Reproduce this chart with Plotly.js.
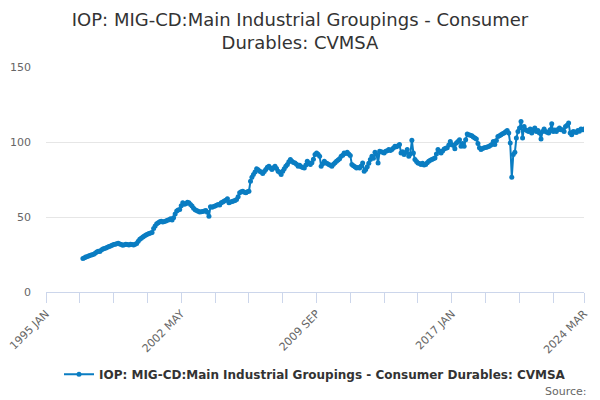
<!DOCTYPE html>
<html>
<head>
<meta charset="utf-8">
<script src="https://cdn.plot.ly/plotly-3.0.1.min.js"></script>
<style>html,body{margin:0;padding:0;background:#fff;}#chart{width:600px;height:400px;}</style>
</head>
<body>
<div id="chart"></div>
<script>
var seriesName = "IOP: MIG-CD:Main Industrial Groupings - Consumer Durables: CVMSA";
var startYear = 1997, startMonth = 1;
var values = [
// 1997
22.4, 22.8, 23.3, 23.6, 24.1, 24.5, 24.9, 25.2, 25.8, 26.6, 27.2, 27.0,
// 1998
28.0, 28.6, 29.0, 29.3, 29.9, 30.3, 30.7, 31.2, 31.6, 31.9, 32.2, 32.5,
// 1999
32.0, 31.6, 31.2, 31.5, 31.9, 31.7, 31.4, 31.8, 31.6, 31.3, 31.9, 32.3,
// 2000
33.8, 35.2, 35.9, 36.7, 37.4, 38.0, 38.5, 39.0, 39.3, 39.6, 42.3, 44.0,
// 2001
45.5, 46.2, 46.8, 47.1, 46.6, 47.0, 47.3, 47.8, 48.2, 48.9, 48.0, 49.5,
// 2002
52.0, 54.0, 54.6, 55.0, 57.5, 59.5, 58.5, 58.9, 59.8, 59.5, 58.4, 57.3,
// 2003
55.8, 54.9, 54.4, 53.8, 53.3, 53.5, 53.7, 54.0, 54.4, 53.2, 50.5, 56.9,
// 2004
56.5, 57.0, 57.3, 57.8, 58.4, 58.0, 59.5, 60.0, 60.6, 61.2, 62.2, 59.5,
// 2005
60.0, 60.4, 60.6, 61.0, 61.7, 63.5, 66.2, 66.8, 67.2, 66.5, 66.2, 66.8,
// 2006
67.2, 73.9, 76.5, 78.3, 80.0, 82.1, 81.5, 80.5, 80.0, 79.0, 80.3, 81.6,
// 2007
83.2, 83.8, 82.6, 81.6, 82.9, 83.8, 82.3, 80.5, 79.8, 78.3, 80.5, 82.1,
// 2008
83.8, 85.0, 86.8, 88.3, 87.2, 86.4, 86.0, 85.1, 83.8, 84.5, 83.5, 83.0,
// 2009
82.7, 84.6, 87.1, 86.0, 85.0, 86.2, 88.5, 91.6, 92.7, 91.8, 90.5, 83.8,
// 2010
85.5, 87.1, 86.2, 85.6, 85.0, 84.5, 83.8, 85.2, 86.1, 87.1, 88.0, 88.9,
// 2011
90.5, 91.2, 92.7, 92.4, 93.1, 92.0, 91.0, 85.0, 84.1, 83.5, 82.7, 83.0,
// 2012
82.7, 84.0, 86.0, 80.5, 81.6, 83.5, 85.8, 88.3, 90.5, 89.2, 93.1, 91.6,
// 2013
86.0, 93.9, 93.5, 93.1, 92.6, 93.9, 94.2, 95.0, 94.4, 95.0, 96.0, 97.1,
// 2014
96.8, 97.5, 98.3, 92.7, 93.5, 91.6, 93.0, 95.0, 90.5, 92.0, 101.1, 92.7,
// 2015
88.3, 87.0, 86.0, 85.6, 85.0, 85.8, 84.6, 85.0, 86.2, 87.1, 87.8, 88.3,
// 2016
88.8, 89.4, 92.0, 95.0, 93.8, 92.7, 94.0, 95.4, 95.8, 96.1, 98.0, 100.4,
// 2017
98.3, 97.6, 95.5, 99.3, 100.4, 101.5, 97.1, 99.0, 97.1, 101.5, 105.3, 104.8,
// 2018
104.5, 104.2, 103.4, 102.6, 102.0, 99.0, 96.1, 95.0, 95.6, 96.1, 96.4, 96.7,
// 2019
97.0, 97.6, 98.3, 100.4, 98.3, 101.0, 103.7, 104.2, 104.8, 105.5, 106.0, 106.8,
// 2020
107.7, 106.0, 99.3, 76.5, 91.6, 93.1, 102.6, 107.0, 109.3, 113.7, 102.6, 110.4,
// 2021
108.2, 107.5, 107.0, 108.6, 106.0, 108.2, 109.3, 107.0, 107.6, 106.0, 102.0, 107.0,
// 2022
108.6, 107.0, 106.5, 106.0, 108.2, 112.1, 107.0, 108.0, 107.0, 108.4, 109.3, 108.2,
// 2023
108.2, 107.0, 110.4, 111.2, 112.6, 106.0, 104.8, 107.0, 106.7, 106.4, 107.7, 107.2,
// 2024
108.6, 108.2, 108.6
];
var tickDates = ["1995-01-01", "2002-05-01", "2009-09-01", "2017-01-01", "2024-03-01"];
var tickLabels = ["1995 JAN", "2002 MAY", "2009 SEP", "2017 JAN", "2024 MAR"];
var yTicks = [0, 50, 100, 150];

var dates = [];
for (var i = 0; i < values.length; i++) {
  var mi = (startMonth - 1) + i;
  var yy = startYear + Math.floor(mi / 12);
  var mm = (mi % 12) + 1;
  dates.push(yy + "-" + (mm < 10 ? "0" : "") + mm + "-01");
}

var trace = {
  x: dates, y: values, type: "scatter", mode: "lines+markers", name: seriesName,
  line: {color: "#0a7dc2", width: 2},
  marker: {color: "#0a7dc2", size: 5}
};

var layout = {
  width: 600, height: 400,
  margin: {l: 46, r: 16, t: 67, b: 107},
  paper_bgcolor: "#ffffff", plot_bgcolor: "#ffffff",
  font: {family: "DejaVu Sans, sans-serif", color: "#666666", size: 11},
  title: {text: "IOP: MIG-CD:Main Industrial Groupings - Consumer<br>Durables: CVMSA",
          font: {size: 18, color: "#333333", family: "DejaVu Sans, sans-serif"},
          x: 0.5, xanchor: "center", yref: "container", y: 0.935, yanchor: "middle"},
  xaxis: {
    type: "date", range: ["1995-01-01", "2024-03-01"],
    tickmode: "array", tickvals: tickDates, ticktext: tickLabels, tickangle: -45,
    ticks: "outside", ticklen: 10, tickcolor: "#ccd6eb", tickwidth: 1,
    showline: true, linecolor: "#ccd6eb", linewidth: 1, showgrid: false, zeroline: false,
    tickfont: {size: 11, color: "#666666"},
    minor: {ticks: "outside", ticklen: 10, tickcolor: "#ccd6eb", tick0: "1995-01-01", dtick: "M22", showgrid: false}
  },
  yaxis: {
    range: [0, 150], tickmode: "array", tickvals: yTicks,
    showgrid: true, gridcolor: "#e6e6e6", zeroline: false, showline: false,
    ticks: "", tickfont: {size: 11, color: "#666666"}, ticklabelstandoff: 14
  },
  showlegend: true,
  legend: {orientation: "h", x: 0.5, xanchor: "center", y: -0.36, yanchor: "middle",
           font: {size: 12, color: "#333333", weight: "bold"}},
  annotations: [{text: "Source:", xref: "paper", yref: "paper", x: 1.01, y: -0.44,
                 xanchor: "right", yanchor: "middle", showarrow: false,
                 font: {size: 11, color: "#666666"}}]
};

Plotly.newPlot("chart", [trace], layout, {displayModeBar: false, staticPlot: true});
</script>
</body>
</html>
